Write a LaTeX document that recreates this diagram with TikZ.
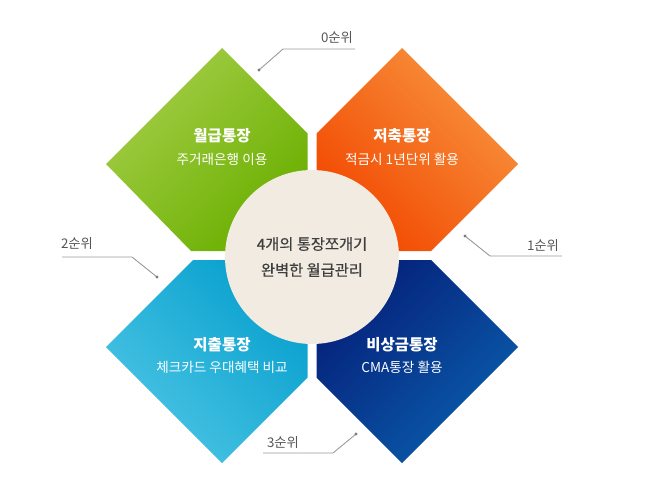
\documentclass[tikz,border=0pt]{standalone}
\usepackage{fontspec}
\setmainfont{Noto Sans CJK KR}
\newfontfamily\medkr[FakeBold=0.5]{Noto Sans CJK KR}
\definecolor{gOut}{HTML}{A4CE48}
\definecolor{gIn}{HTML}{6AAF00}
\definecolor{oOut}{HTML}{F7943F}
\definecolor{oIn}{HTML}{F24800}
\definecolor{cOut}{HTML}{4CC5E4}
\definecolor{cIn}{HTML}{07A0CE}
\definecolor{bOut}{HTML}{0A5DAC}
\definecolor{bIn}{HTML}{05207A}
\definecolor{beige}{HTML}{F1EBE1}
\definecolor{linegray}{HTML}{9A9A9A}
\definecolor{rankgray}{HTML}{555555}
\definecolor{centertext}{HTML}{3E3E3E}
\begin{document}
\begin{tikzpicture}[x=1pt,y=-1pt,
  title/.style={text=white,font=\bfseries\fontsize{15.5}{17}\selectfont,inner sep=0pt},
  sub/.style={text=white,font=\fontsize{13.6}{15}\selectfont,inner sep=0pt},
  rank/.style={text=rankgray,font=\fontsize{13.3}{15}\selectfont,inner sep=0pt},
  leader/.style={draw=linegray,line width=0.9pt},
  dotend/.style={fill=linegray!80!black}]
\useasboundingbox (0,0) rectangle (661,493);
% diamonds
\shade[top color=gOut,bottom color=gIn,shading angle=45]
  (222,48) -- (307.5,133.5) -- (307.5,251) -- (191,251) -- (106,164) -- cycle;
\shade[top color=oOut,bottom color=oIn,shading angle=-45]
  (402,48) -- (518,164) -- (431,251) -- (316.5,251) -- (316.5,133.5) -- cycle;
\shade[top color=cOut,bottom color=cIn,shading angle=135]
  (193,260) -- (307.5,260) -- (307.5,377.5) -- (222,463) -- (106,347) -- cycle;
\shade[top color=bOut,bottom color=bIn,shading angle=-135]
  (316.5,260) -- (431,260) -- (518,347) -- (402,463) -- (316.5,377.5) -- cycle;
% center circle
\node[circle,fill=beige,minimum size=174pt,inner sep=0pt] (hub) at (312,257) {};
\node[text=centertext,font=\medkr\fontsize{15.3}{26}\selectfont,align=center,inner sep=0pt] (hubtext) at (312,257)
  {4개의 통장쪼개기\\완벽한 월급관리};
% texts
\node[title] (t1) at (222,136) {월급통장};
\node[sub] (s1) at (222,159) {주거래은행 이용};
\node[title] (t2) at (402,136) {저축통장};
\node[sub] (s2) at (402,159) {적금시 1년단위 활용};
\node[title] (t3) at (222,345) {지출통장};
\node[sub] (s3) at (222,367) {체크카드 우대혜택 비교};
\node[title] (t4) at (402,345) {비상금통장};
\node[sub] (s4) at (402,367) {CMA통장 활용};
% leaders
\coordinate (d0) at (259,70); \coordinate (k0) at (283,49); \coordinate (e0) at (355,49);
\coordinate (d1) at (465,236); \coordinate (k1) at (490,256); \coordinate (e1) at (562,256);
\coordinate (d2) at (157,277); \coordinate (k2) at (132,257); \coordinate (e2) at (62,257);
\coordinate (d3) at (356,434); \coordinate (k3) at (333,453); \coordinate (e3) at (263,453);
\draw[leader] (d0) -- (k0) -- (e0);
\draw[leader] (d1) -- (k1) -- (e1);
\draw[leader] (d2) -- (k2) -- (e2);
\draw[leader] (d3) -- (k3) -- (e3);
\foreach \d in {d0,d1,d2,d3} \fill[dotend] (\d) circle (1.6pt);
\node[rank] (r0) at (337,38) {0순위};
\node[rank] (r1) at (543,246) {1순위};
\node[rank] (r2) at (77,244) {2순위};
\node[rank] (r3) at (283,443) {3순위};
\end{tikzpicture}
\end{document}
